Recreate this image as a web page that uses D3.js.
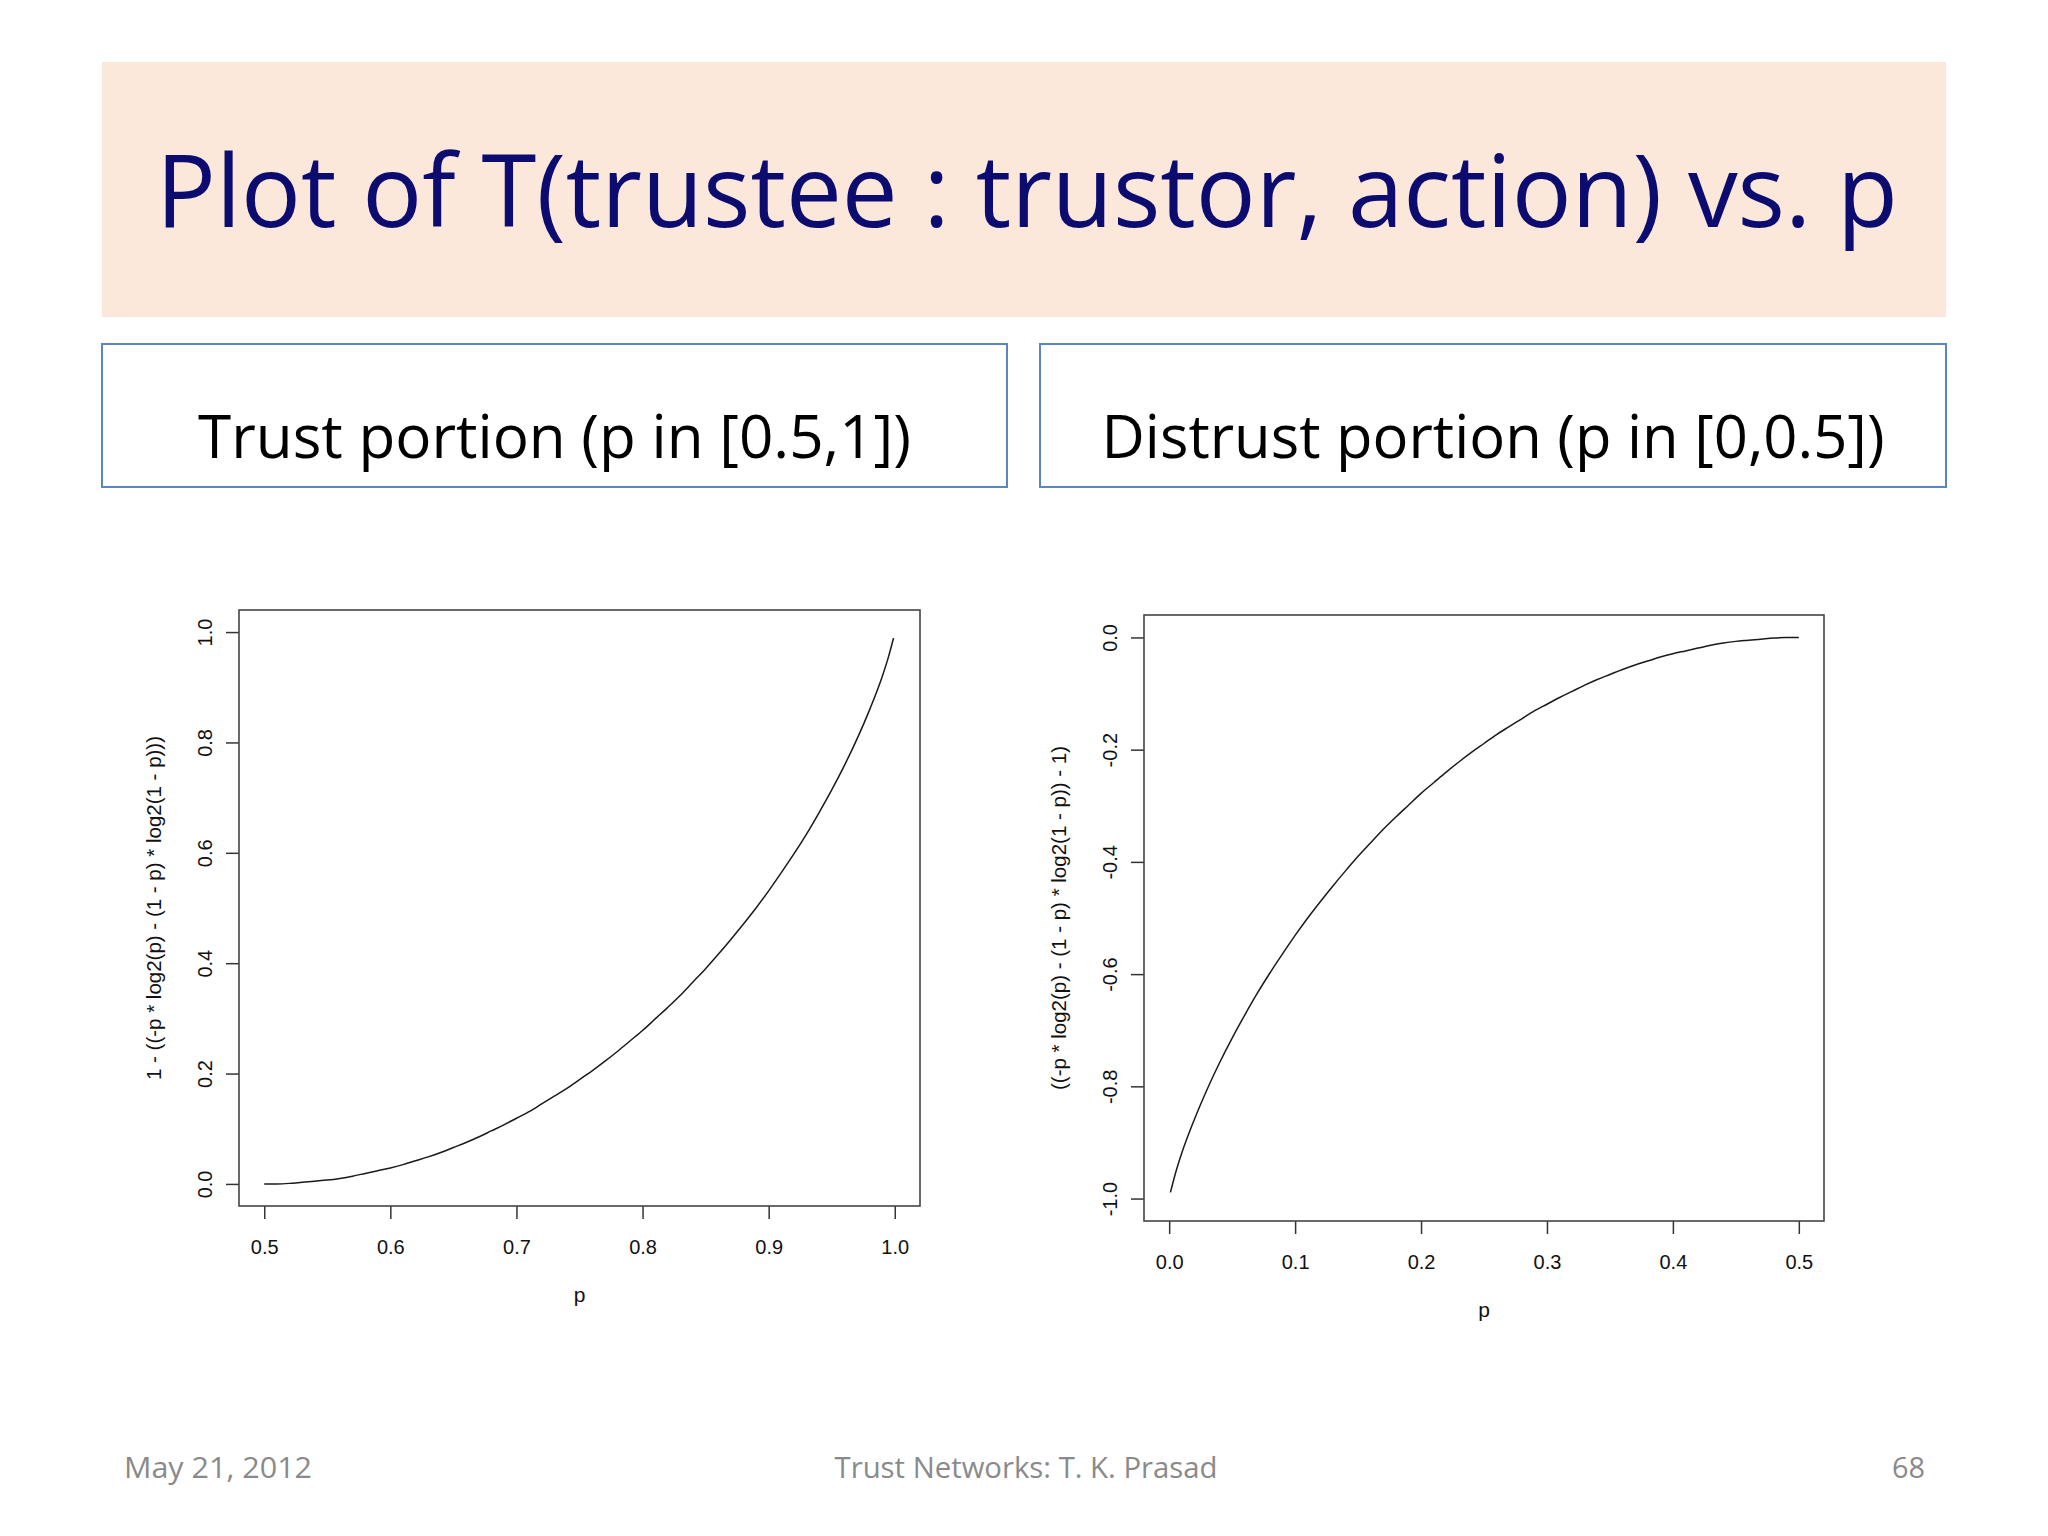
<!DOCTYPE html>
<html>
<head>
<meta charset="utf-8">
<script src="https://cdn.jsdelivr.net/npm/d3@7"></script>
<style>
  body { margin: 0; background: #fff; }
  svg { display: block; }
</style>
</head>
<body>
<div class="slide"></div>
<script>
// slide texts
const titleText = "Plot of T(trustee : trustor, action) vs. p"
const boxTexts = ["Trust portion (p in [0.5,1])", "Distrust portion (p in [0,0.5])"]
const footerTexts = ["May 21, 2012", "Trust Networks: T. K. Prasad", "68"]

// trust portion, p in [0.5, 1]
const trustP = [0.50, 0.51, 0.52, 0.53, 0.54, 0.55, 0.56, 0.57, 0.58, 0.59,
    0.60, 0.61, 0.62, 0.63, 0.64, 0.65, 0.66, 0.67, 0.68, 0.69,
    0.70, 0.71, 0.72, 0.73, 0.74, 0.75, 0.76, 0.77, 0.78, 0.79,
    0.80, 0.81, 0.82, 0.83, 0.84, 0.85, 0.86, 0.87, 0.88, 0.89,
    0.90, 0.91, 0.92, 0.93, 0.94, 0.95, 0.96, 0.97, 0.98, 0.99, 0.995, 0.999]
const trustT = [0.000, 0.000, 0.001, 0.003, 0.005, 0.007, 0.010, 0.014, 0.019, 0.024,
    0.029, 0.035, 0.042, 0.049, 0.057, 0.066, 0.075, 0.085, 0.096, 0.107,
    0.119, 0.131, 0.145, 0.159, 0.173, 0.189, 0.205, 0.222, 0.240, 0.259,
    0.278, 0.299, 0.320, 0.342, 0.366, 0.390, 0.416, 0.443, 0.471, 0.500,
    0.531, 0.564, 0.598, 0.634, 0.673, 0.714, 0.758, 0.806, 0.859, 0.919, 0.955, 0.989]
const trustXTicks = [0.5, 0.6, 0.7, 0.8, 0.9, 1.0]
const trustYTicks = [0.0, 0.2, 0.4, 0.6, 0.8, 1.0]
const trustYLabel = "1 - ((-p * log2(p) - (1 - p) * log2(1 - p)))"

// distrust portion, p in [0, 0.5]
const distrustP = [0.001, 0.005, 0.01, 0.02, 0.03, 0.04, 0.05, 0.06, 0.07, 0.08, 0.09,
    0.10, 0.11, 0.12, 0.13, 0.14, 0.15, 0.16, 0.17, 0.18, 0.19,
    0.20, 0.21, 0.22, 0.23, 0.24, 0.25, 0.26, 0.27, 0.28, 0.29,
    0.30, 0.31, 0.32, 0.33, 0.34, 0.35, 0.36, 0.37, 0.38, 0.39,
    0.40, 0.41, 0.42, 0.43, 0.44, 0.45, 0.46, 0.47, 0.48, 0.49, 0.50]
const distrustT = [-0.989, -0.955, -0.919, -0.859, -0.806, -0.758, -0.714, -0.673, -0.634, -0.598, -0.564,
    -0.531, -0.500, -0.471, -0.443, -0.416, -0.390, -0.366, -0.342, -0.320, -0.299,
    -0.278, -0.259, -0.240, -0.222, -0.205, -0.189, -0.173, -0.159, -0.145, -0.131,
    -0.119, -0.107, -0.096, -0.085, -0.075, -0.066, -0.057, -0.049, -0.042, -0.035,
    -0.029, -0.024, -0.019, -0.014, -0.010, -0.007, -0.005, -0.003, -0.001, -0.000, 0.000]
const distrustXTicks = [0.0, 0.1, 0.2, 0.3, 0.4, 0.5]
const distrustYTicks = [0.0, -0.2, -0.4, -0.6, -0.8, -1.0]
const distrustYLabel = "((-p * log2(p) - (1 - p) * log2(1 - p)) - 1)"

const W = 2048, H = 1536
const slideFont = "'Open Sans', 'Noto Sans', sans-serif"
const plotFont = "'Liberation Sans', Arial, sans-serif"

let svg = d3.select(".slide")
    .append("svg")
    .attr("width", W)
    .attr("height", H)
svg.append("rect").attr("width", W).attr("height", H).attr("fill", "#fff")

//标题
svg.append("rect")
    .attr("x", 102).attr("y", 62)
    .attr("width", 1844).attr("height", 255)
    .attr("fill", "#fbe8da")
svg.append("text")
    .attr("x", 1027).attr("y", 227)
    .attr("text-anchor", "middle")
    .attr("font-family", slideFont)
    .attr("font-size", 100)
    .attr("fill", "#0c0b70")
    .attr("textLength", 1742)
    .attr("lengthAdjust", "spacingAndGlyphs")
    .text(titleText)

// two caption boxes
let boxes = [{ x: 102, w: 905, tw: 713 }, { x: 1040, w: 906, tw: 783 }]
boxes.forEach((b, i) => {
    svg.append("rect")
        .attr("x", b.x).attr("y", 344)
        .attr("width", b.w).attr("height", 143)
        .attr("fill", "#fff")
        .attr("stroke", "#5b86c2")
        .attr("stroke-width", 2)
    svg.append("text")
        .attr("x", b.x + b.w / 2).attr("y", 458)
        .attr("text-anchor", "middle")
        .attr("font-family", slideFont)
        .attr("font-size", 60)
        .attr("fill", "#000")
        .attr("textLength", b.tw)
        .attr("lengthAdjust", "spacingAndGlyphs")
        .text(boxTexts[i])
})

// footer
let footer = [
    { x: 124, anchor: "start", tw: 188 },
    { x: 1026, anchor: "middle", tw: 383 },
    { x: 1925, anchor: "end", tw: 33 }
]
footer.forEach((f, i) => {
    svg.append("text")
        .attr("x", f.x).attr("y", 1478)
        .attr("text-anchor", f.anchor)
        .attr("font-family", slideFont)
        .attr("font-size", 30)
        .attr("fill", "#8a8a8a")
        .attr("textLength", f.tw)
        .attr("lengthAdjust", "spacingAndGlyphs")
        .text(footerTexts[i])
})

// R style plot panels
let panels = [
    { left: 239, right: 920, top: 610, bottom: 1206, xDom: [0.48, 1.02], yDom: [-0.04, 1.04],
      p: trustP, t: trustT, xTicks: trustXTicks, yTicks: trustYTicks, ylab: trustYLabel },
    { left: 1144, right: 1824, top: 615, bottom: 1221, xDom: [-0.02, 0.52], yDom: [-1.04, 0.04],
      p: distrustP, t: distrustT, xTicks: distrustXTicks, yTicks: distrustYTicks, ylab: distrustYLabel }
]

panels.forEach((c) => {
    let g = svg.append("g").attr("font-family", plotFont)
    let x = d3.scaleLinear().domain(c.xDom).range([c.left, c.right])
    let y = d3.scaleLinear().domain(c.yDom).range([c.bottom, c.top])

    let xAxis = g.append("g")
        .attr("transform", `translate(0,${c.bottom})`)
        .call(d3.axisBottom(x).tickValues(c.xTicks).tickFormat(d3.format(".1f"))
            .tickSize(13).tickSizeOuter(0).tickPadding(0))
    xAxis.select(".domain").remove()
    xAxis.selectAll("line").attr("stroke", "#333").attr("stroke-width", 1.5)
    xAxis.selectAll("text")
        .attr("y", 48).attr("dy", null)
        .attr("font-size", 20).attr("fill", "#111")

    let yAxis = g.append("g")
        .attr("transform", `translate(${c.left},0)`)
        .call(d3.axisLeft(y).tickValues(c.yTicks).tickFormat(d3.format(".1f"))
            .tickSize(13).tickSizeOuter(0))
    yAxis.select(".domain").remove()
    yAxis.selectAll("line").attr("stroke", "#333").attr("stroke-width", 1.5)
    yAxis.selectAll("text")
        .attr("x", null).attr("dy", null)
        .attr("text-anchor", "middle")
        .attr("transform", "translate(-27,0) rotate(-90)")
        .attr("font-size", 20).attr("fill", "#111")
        .text((d) => d3.format(".1f")(d).replace("−", "-"))

    // box
    g.append("rect")
        .attr("x", c.left).attr("y", c.top)
        .attr("width", c.right - c.left).attr("height", c.bottom - c.top)
        .attr("fill", "none")
        .attr("stroke", "#444")
        .attr("stroke-width", 1.6)

    let line = d3.line()
        .x((d, i) => x(c.p[i]))
        .y((d) => y(d))
        .curve(d3.curveMonotoneX)
    g.append("path")
        .attr("d", line(c.t))
        .attr("fill", "none")
        .attr("stroke", "#1a1a1a")
        .attr("stroke-width", 1.5)

    g.append("text")
        .attr("x", (c.left + c.right) / 2).attr("y", c.bottom + 96)
        .attr("text-anchor", "middle")
        .attr("font-size", 21).attr("fill", "#111")
        .text("p")
    g.append("text")
        .attr("transform", `translate(${c.left - 78},${(c.top + c.bottom) / 2}) rotate(-90)`)
        .attr("text-anchor", "middle")
        .attr("font-size", 20.5).attr("fill", "#111")
        .text(c.ylab)
})
</script>
</body>
</html>
